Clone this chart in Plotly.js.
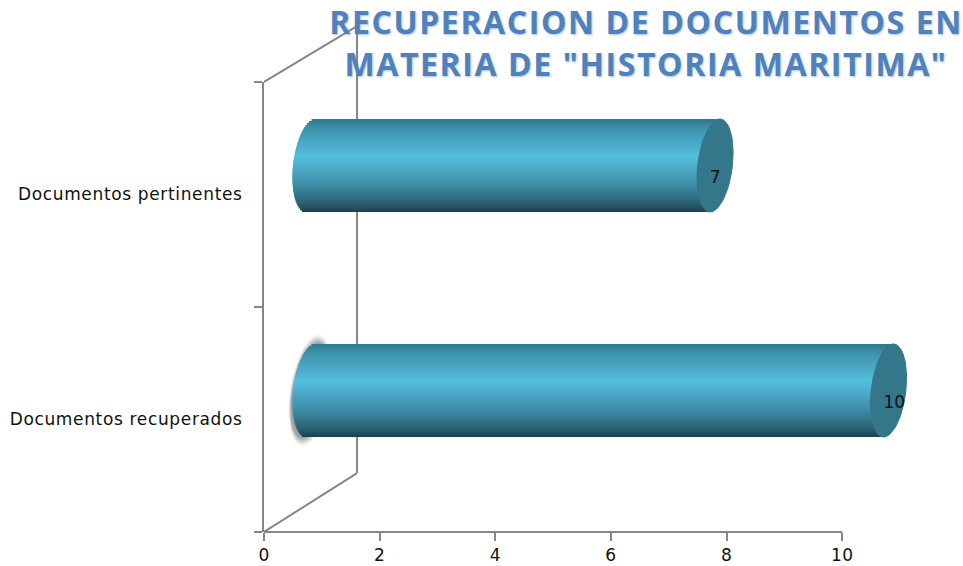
<!DOCTYPE html>
<html>
<head>
<meta charset="utf-8">
<script src="https://cdn.plot.ly/plotly-3.0.1.min.js"></script>
<style>
html,body{margin:0;padding:0;background:#fff}
#c{width:963px;height:566px}
.gtitle{letter-spacing:1.6px}
.ytick text{letter-spacing:.65px}
.xtick text{letter-spacing:.4px}
</style>
</head>
<body>
<div id="c"></div>
<script>
var categories = ['Documentos recuperados', 'Documentos pertinentes'];
var values = [10, 7];
var titleLines = ['RECUPERACION DE DOCUMENTOS EN', 'MATERIA DE "HISTORIA MARITIMA"'];
var xTicks = [0, 2, 4, 6, 8, 10];

// axis span leaves room for the bars' pseudo-3D overhang past the last tick
var xMax = 11.5;
var depth = 0.8, lift = 0.129, halfH = 0.2067, capA = 0.3, capS = 0.085;
var wallX = 1.609, wallTop = 1.124, wallBottom = 0.131;
var labelNudgeX = [0.1, 0], labelDrop = 0.06;
var axisColor = '#868686', faceColor = '#34768a', fontFam = '"DejaVu Sans", sans-serif';
var stops = [[0, [46,120,140]], [0.1, [62,146,171]], [0.4, [84,190,222]], [0.7, [62,143,168]], [0.9, [42,98,116]], [1, [28,64,78]]];

function shade(p) {
  for (var i = 1; i < stops.length; i++) {
    if (p <= stops[i][0]) {
      var a = stops[i-1], b = stops[i], f = (p - a[0]) / (b[0] - a[0]);
      return 'rgb(' + [0,1,2].map(function (k) { return Math.round(a[1][k] + (b[1][k] - a[1][k]) * f); }).join(',') + ')';
    }
  }
  return 'rgb(28,64,78)';
}

var traces = [];
var N = 47, stripe = 2 * halfH / N;
for (var i = 0; i < N; i++) {
  var p = (i + 0.5) / N, t = 1 - 2 * p;
  var span = Math.min(stripe * 2.2, stripe * (N - i));          // each stripe overlaps the next, so no gaps
  var tLow = t < 0 ? (lift + halfH * t - lift - (span - stripe)) / halfH : t;
  var bulge = capA * Math.sqrt(Math.max(0, 1 - Math.min(1, tLow * tLow)));
  traces.push({
    type: 'bar', orientation: 'h', y: categories,
    x: values.map(function (v) { return v + bulge; }),
    base: values.map(function () { return depth + capS * t - bulge; }),
    offset: lift + halfH * (1 - 2 * i / N) - span,
    width: span,
    marker: { color: shade(p), line: { width: 0 } },
    hoverinfo: 'skip', showlegend: false
  });
}

// end faces of the cylinders, on a hidden overlay with the same scales
values.forEach(function (v, j) {
  var xs = [], ys = [];
  for (var k = 0; k <= 72; k++) {
    var th = k / 72 * 2 * Math.PI, st = Math.sin(th);
    xs.push(depth + v + capA * Math.cos(th) + capS * st);
    ys.push(j + lift + halfH * st);
  }
  traces.push({
    type: 'scatter', mode: 'lines', x: xs, y: ys, xaxis: 'x2', yaxis: 'y2',
    fill: 'toself', fillcolor: faceColor, line: { color: faceColor, width: 1 },
    hoverinfo: 'skip', showlegend: false
  });
});
traces.push({
  type: 'scatter', mode: 'text', xaxis: 'x2', yaxis: 'y2',
  x: values.map(function (v, j) { return depth + v + labelNudgeX[j]; }),
  y: values.map(function (v, j) { return j + lift - labelDrop; }),
  text: values.map(String), textposition: 'middle center',
  textfont: { family: fontFam, size: 17, color: '#111' },
  hoverinfo: 'skip', showlegend: false
});

function line(x0, y0, x1, y1) {
  return { type: 'line', xref: 'x', yref: 'paper', x0: x0, y0: y0, x1: x1, y1: y1,
           layer: 'below', line: { color: axisColor, width: 2 } };
}
var shapes = [
  line(0, 1, wallX, wallTop), line(0, 0, wallX, wallBottom), line(wallX, wallBottom, wallX, wallTop),
  line(0, 0, xTicks[xTicks.length - 1], 0)
];
// soft, slanted halo around the left end of the selected bar
[[1, 0.07], [0.8, 0.1], [0.6, 0.14], [0.4, 0.18], [0.2, 0.24]].forEach(function (h) {
  var d = [];
  for (var k = 0; k <= 48; k++) {
    var th = k / 48 * 2 * Math.PI, st = Math.sin(th);
    var px = depth + (capA + 0.05 * h[0]) * Math.cos(th) + (capS + 0.05) * st;
    var py = (0.5 + lift + (halfH + 0.04 * h[0]) * st) / 2;
    d.push((k ? 'L' : 'M') + px.toFixed(4) + ',' + py.toFixed(4));
  }
  shapes.push({ type: 'path', xref: 'x', yref: 'paper', layer: 'below', path: d.join(' ') + ' Z',
    fillcolor: 'rgba(90,90,90,' + h[1] + ')', line: { width: 0 } });
});

var layout = {
  width: 963, height: 566,
  margin: { l: 264, r: 34.3, t: 82, b: 34, pad: 0 },
  paper_bgcolor: '#fff', plot_bgcolor: 'rgba(0,0,0,0)',
  barmode: 'overlay', showlegend: false,
  title: {
    text: titleLines.join('<br>'), x: 646 / 963, xanchor: 'center', y: 0.94, yanchor: 'top',
    font: { family: '"Open Sans", sans-serif', size: 32, weight: 700, color: '#4f81bd', shadow: '1px 1px 2px rgba(79,129,189,0.5)' }
  },
  xaxis: {
    range: [0, xMax], tickvals: xTicks, ticktext: xTicks.map(String), ticks: 'outside', ticklen: 8, tickwidth: 2,
    tickcolor: axisColor, showline: false, showgrid: false, zeroline: false,
    tickfont: { family: fontFam, size: 17, color: '#111' }
  },
  yaxis: {
    type: 'category', categoryorder: 'array', categoryarray: categories, range: [-0.5, 1.5],
    tickson: 'boundaries', ticks: 'outside', ticklen: 8, tickwidth: 2, tickcolor: axisColor,
    showline: true, linecolor: axisColor, linewidth: 2, showgrid: false, zeroline: false,
    ticklabelstandoff: 16,
    tickfont: { family: fontFam, size: 17, color: '#111' }
  },
  xaxis2: { overlaying: 'x', range: [0, xMax], visible: false, anchor: 'y2' },
  yaxis2: { overlaying: 'y', range: [-0.5, 1.5], visible: false, anchor: 'x2' },
  shapes: shapes
};
Plotly.newPlot('c', traces, layout, { displayModeBar: false, responsive: false });
</script>
</body>
</html>
